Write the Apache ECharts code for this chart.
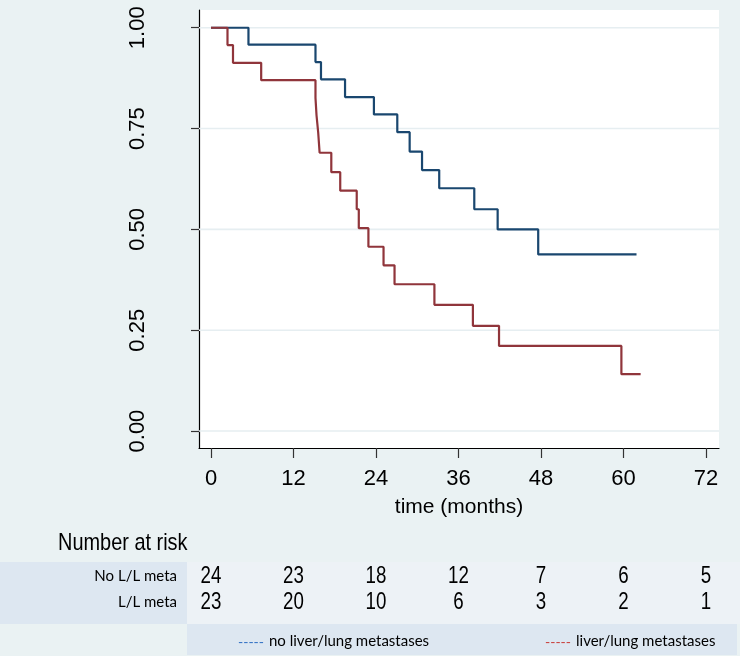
<!DOCTYPE html>
<html><head><meta charset="utf-8">
<script src="https://cdn.jsdelivr.net/npm/echarts@6/dist/echarts.min.js"></script>
<style>html,body{margin:0;padding:0;background:#eaf2f3}#c{width:740px;height:656px}</style>
</head><body><div id="c"></div>
<script>
// Kaplan-Meier step data (time in months, survival probability)
const blueTimes = [0, 5.45, 15.2, 16.0, 19.5, 23.7, 27.1, 28.9, 30.7, 33.2, 38.3, 41.7, 47.6, 61.9];
const blueSurv  = [1.0, 0.958, 0.915, 0.872, 0.828, 0.785, 0.741, 0.693, 0.647, 0.602, 0.550, 0.500, 0.438, 0.438];
const redTimes  = [0, 2.4, 3.2, 7.3, 15.2, 15.35, 15.6, 15.8, 17.5, 18.8, 21.2, 21.5, 22.9, 25.1, 26.7, 32.5, 38.1, 41.9, 59.7, 62.5];
const redSurv   = [1.0, 0.957, 0.913, 0.870, 0.826, 0.783, 0.739, 0.690, 0.642, 0.596, 0.550, 0.503, 0.457, 0.411, 0.364, 0.313, 0.261, 0.211, 0.141, 0.141];
const xTicks = [0, 12, 24, 36, 48, 60, 72];
const yTicks = [0, 0.25, 0.5, 0.75, 1];
const riskNo = [24, 23, 18, 12, 7, 6, 5];
const riskLL = [23, 20, 10, 6, 3, 2, 1];
const rowLabels = ['L/L meta', 'No L/L meta'];
const legendNames = ['no liver/lung metastases', 'liver/lung metastases'];

const X_MIN = -1.745, X_MAX = 73.9, Y_MIN = -0.042, Y_MAX = 1.044;
const NAVY = '#1a476f', MAROON = '#90353b';
const sans = "'Liberation Sans', Arial, sans-serif";

const chart = echarts.init(document.getElementById('c'), null, {renderer: 'canvas'});

const gridSeries = yTicks.map(v => ({
  type: 'line', xAxisIndex: 0, yAxisIndex: 0, z: 1, silent: true,
  symbol: 'none', animation: false,
  lineStyle: {color: '#e6eef1', width: 1.6},
  data: [[X_MIN, v], [X_MAX, v]]
}));

const riskData = [];
xTicks.forEach((t, i) => {
  riskData.push([t, 1, riskNo[i]]);
  riskData.push([t, 0, riskLL[i]]);
});

function legendItem(x, dashColor, label) {
  return [
    {type: 'text', z: 5, x: x, y: 642,
      style: {text: '-----', font: "14px Lato", fill: dashColor, textVerticalAlign: 'middle'}},
    {type: 'text', z: 5, x: x + 31, y: 641,
      style: {text: label, font: "15px Lato", fill: '#000', textVerticalAlign: 'middle'}}
  ];
}

chart.setOption({
  backgroundColor: '#eaf2f3',
  animation: false,
  graphic: [
    {type: 'rect', z: -10, shape: {x: 187, y: 562, width: 553, height: 62}, style: {fill: '#edf2f6'}},
    {type: 'rect', z: -10, shape: {x: 0, y: 562, width: 187, height: 62}, style: {fill: '#dde7f1'}},
    {type: 'rect', z: -10, shape: {x: 187, y: 624, width: 550, height: 31}, style: {fill: '#dde7f1'}},
    {type: 'text', z: 5, x: 58, y: 531, scaleX: 0.83,
      style: {text: 'Number at risk', font: "24px " + sans, fill: '#000', textVerticalAlign: 'top'}},
    ...legendItem(238, '#2f6fc4', legendNames[0]),
    ...legendItem(545, '#c83c38', legendNames[1])
  ],
  grid: [
    {left: 199, right: 21, top: 10, bottom: 208, show: true, backgroundColor: '#ffffff', borderWidth: 0},
    {left: 199, right: 21, top: 563, height: 52, show: false}
  ],
  xAxis: [
    {type: 'value', gridIndex: 0, min: X_MIN, max: X_MAX,
      axisLine: {show: true, onZero: false, lineStyle: {color: '#000', width: 1.2}},
      axisTick: {show: true, customValues: xTicks, length: 10, lineStyle: {color: '#333', width: 1.2}},
      axisLabel: {show: true, customValues: xTicks, margin: 20, color: '#000', fontSize: 22, fontFamily: sans},
      splitLine: {show: false},
      name: 'time (months)', nameLocation: 'middle', nameGap: 49,
      nameTextStyle: {color: '#000', fontSize: 21, fontFamily: sans}},
    {type: 'value', gridIndex: 1, min: X_MIN, max: X_MAX, show: false}
  ],
  yAxis: [
    {type: 'value', gridIndex: 0, min: Y_MIN, max: Y_MAX,
      axisLine: {show: true, onZero: false, lineStyle: {color: '#000', width: 1.2}},
      axisTick: {show: true, customValues: yTicks, length: 8, lineStyle: {color: '#333', width: 1.2}},
      axisLabel: {show: true, customValues: yTicks, rotate: 90, margin: 50, color: '#000',
        fontSize: 22, fontFamily: sans,
        formatter: v => Number(v).toFixed(2)},
      splitLine: {show: false}},
    {type: 'category', gridIndex: 1, data: rowLabels,
      axisLine: {show: false}, axisTick: {show: false}, splitLine: {show: false},
      axisLabel: {margin: 22, color: '#000', fontSize: 15, fontFamily: 'Lato'}}
  ],
  series: [
    ...gridSeries,
    {type: 'line', name: legendNames[0], xAxisIndex: 0, yAxisIndex: 0, z: 3, step: 'end', symbol: 'none',
      lineStyle: {color: NAVY, width: 2.2}, data: blueTimes.map((t, i) => [t, blueSurv[i]])},
    {type: 'line', name: legendNames[1], xAxisIndex: 0, yAxisIndex: 0, z: 4, step: 'end', symbol: 'none',
      lineStyle: {color: MAROON, width: 2.2}, data: redTimes.map((t, i) => [t, redSurv[i]])},
    {type: 'custom', xAxisIndex: 1, yAxisIndex: 1, silent: true,
      renderItem: (params, api) => {
        const p = api.coord([api.value(0), api.value(1)]);
        return {type: 'text', x: p[0], y: p[1], scaleX: 0.78,
          style: {text: String(api.value(2)), font: "24px " + sans, fill: '#000',
            textAlign: 'center', textVerticalAlign: 'middle'}};
      },
      data: riskData}
  ]
});
</script>
</body></html>
